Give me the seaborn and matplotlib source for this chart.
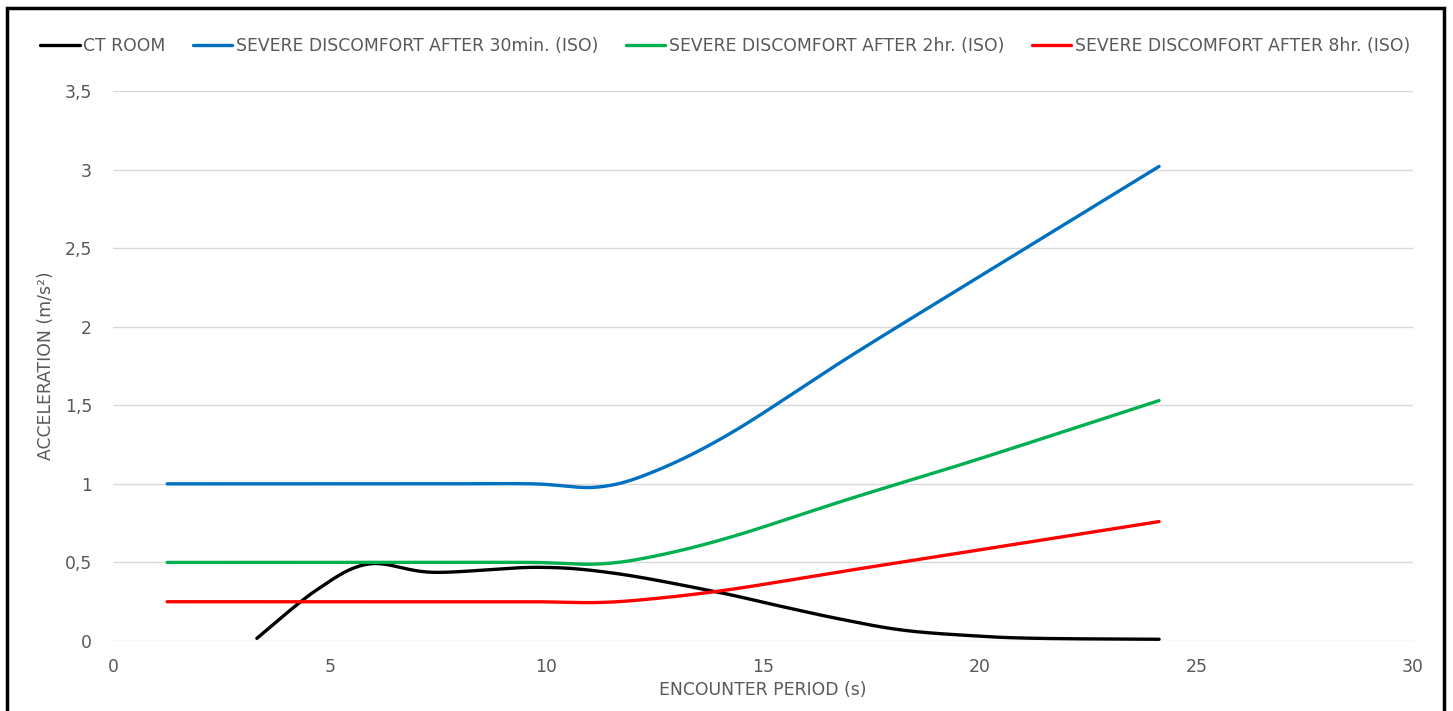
import numpy as np
import pandas as pd
import matplotlib
matplotlib.use("Agg")
import matplotlib.pyplot as plt
from matplotlib.lines import Line2D
from matplotlib.patches import Rectangle
import seaborn as sns

# ---- data -------------------------------------------------------------
iso_period = [1.25, 2.5, 5.0, 7.5, 9.7, 11.2, 12.5, 14.3, 17.0, 20.0, 24.14]
severe_30min = [1.00, 1.00, 1.00, 1.00, 1.00, 0.98, 1.08, 1.33, 1.81, 2.32, 3.02]
severe_2hr = [0.50, 0.50, 0.50, 0.50, 0.50, 0.49, 0.54, 0.665, 0.905, 1.16, 1.53]
severe_8hr = [0.25, 0.25, 0.25, 0.25, 0.25, 0.245, 0.27, 0.33, 0.45, 0.58, 0.76]

ct_period = [3.32, 4.7, 5.9, 7.4, 9.8, 11.6, 13.9, 15.1, 16.7, 18.2, 19.8, 21.3, 24.14]
ct_room = [0.017, 0.325, 0.49, 0.437, 0.469, 0.43, 0.314, 0.24, 0.144, 0.07, 0.034, 0.017, 0.011]

series_names = [
    "CT ROOM",
    "SEVERE DISCOMFORT AFTER 30min. (ISO)",
    "SEVERE DISCOMFORT AFTER 2hr. (ISO)",
    "SEVERE DISCOMFORT AFTER 8hr. (ISO)",
]
series_colors = ["#000000", "#0070C0", "#00B050", "#FF0000"]

y_ticks = [0, 0.5, 1, 1.5, 2, 2.5, 3, 3.5]
y_tick_labels = ["0", "0,5", "1", "1,5", "2", "2,5", "3", "3,5"]
x_ticks = [0, 5, 10, 15, 20, 25, 30]


def smooth(xs, ys, n=40):
    """Bezier smoothing through every point (control points at 1/6 of the
    neighbour chord), as used by spreadsheet 'smoothed line' charts."""
    p = np.column_stack([xs, ys]).astype(float)
    ext = np.vstack([p[0], p, p[-1]])
    t = np.linspace(0, 1, n)[:, None]
    out = []
    for i in range(1, len(ext) - 2):
        a, b = ext[i], ext[i + 1]
        c1 = a + (ext[i + 1] - ext[i - 1]) / 6.0
        c2 = b - (ext[i + 2] - ext[i]) / 6.0
        seg = ((1 - t) ** 3) * a + 3 * ((1 - t) ** 2) * t * c1 \
            + 3 * (1 - t) * t ** 2 * c2 + t ** 3 * b
        out.append(seg if i == 1 else seg[1:])
    s = np.vstack(out)
    return s[:, 0], s[:, 1]


frames = []
for name, xs, ys in [
    (series_names[0], ct_period, ct_room),
    (series_names[1], iso_period, severe_30min),
    (series_names[2], iso_period, severe_2hr),
    (series_names[3], iso_period, severe_8hr),
]:
    sx, sy = smooth(xs, ys)
    frames.append(pd.DataFrame({"period": sx, "accel": sy, "series": name}))
df = pd.concat(frames, ignore_index=True)

# ---- figure -------------------------------------------------------------
sns.set_theme(style="white")
plt.rcParams["font.family"] = ["DejaVu Sans"]
FS = 12.4
TXT = "#595959"

W, H = 1453, 711
fig = plt.figure(figsize=(W / 100, H / 100), dpi=100)
ax = fig.add_axes([113 / W, 1 - 641 / H, (1413 - 113) / W, (641 - 91) / H])

sns.lineplot(data=df, x="period", y="accel", hue="series", units="series",
             hue_order=series_names, palette=series_colors, estimator=None,
             sort=False, linewidth=2.4, legend=False, ax=ax, zorder=3)

ax.set_xlim(0, 30)
ax.set_ylim(0, 3.5)
ax.set_xticks(x_ticks)
ax.set_xticklabels([str(v) for v in x_ticks])
ax.set_yticks(y_ticks)
ax.set_yticklabels(y_tick_labels)
ax.yaxis.grid(True, color="#D9D9D9", linewidth=1.0, zorder=0)
ax.xaxis.grid(False)
for sp in ax.spines.values():
    sp.set_visible(False)
ax.tick_params(axis="both", length=0, labelsize=FS, labelcolor=TXT)
ax.tick_params(axis="y", pad=15)
ax.tick_params(axis="x", pad=12)

ax.set_xlabel("ENCOUNTER PERIOD (s)", fontsize=FS, color=TXT, labelpad=4)
ax.set_ylabel("ACCELERATION (m/s²)", fontsize=FS, color=TXT, labelpad=7)

handles = [Line2D([0], [0], color=c, linewidth=2.4) for c in series_colors]
fig.legend(handles, series_names, loc="center", bbox_to_anchor=(725 / W, 1 - 46 / H),
           ncol=4, frameon=False, fontsize=FS, labelcolor=TXT,
           handlelength=2.3, handletextpad=0.2, columnspacing=1.6)

# outer frame around the chart area
fig.patches.append(Rectangle((7 / W, -0.02), (1444 - 7) / W, 1.02 - 8 / H,
                             transform=fig.transFigure, fill=False,
                             edgecolor="#000000", linewidth=2.5, zorder=10))

fig.savefig("out.png", dpi=100, facecolor="white")
